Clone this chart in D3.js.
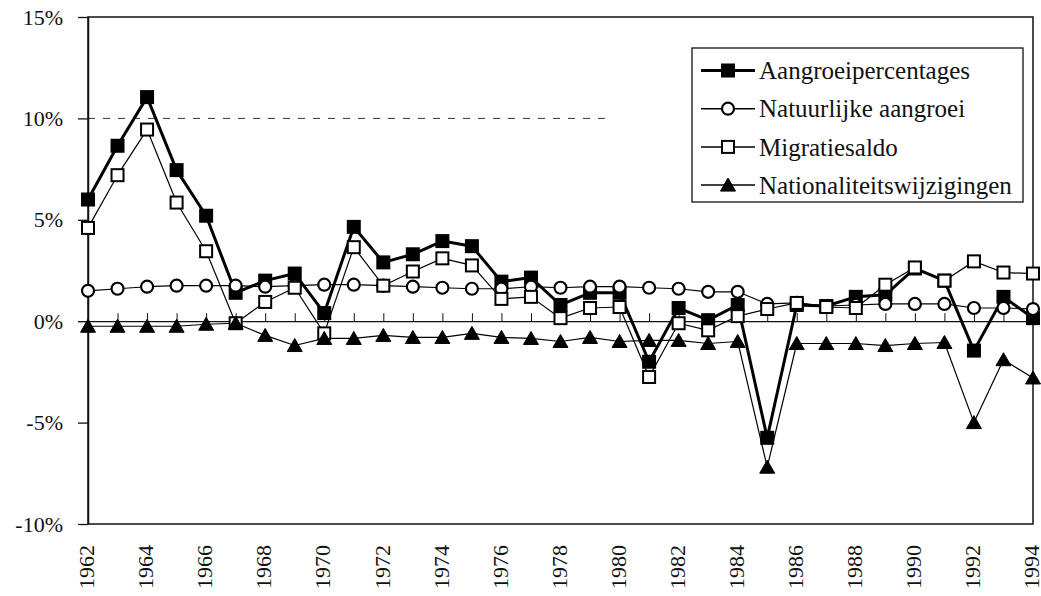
<!DOCTYPE html>
<html>
<head>
<meta charset="utf-8">
<script src="https://cdn.jsdelivr.net/npm/d3@7"></script>
<style>
	html, body { margin: 0; padding: 0; background: #fff; }
	svg { display: block; }
	svg text { font-family: 'Liberation Serif', 'Times New Roman', Times, serif; }
</style>
</head>
<body>
<div id="chart"></div>
<script>
'use strict';

// data (percentages)
var years = d3.range(1962, 1995);
var labelYears = d3.range(1962, 1995, 2);
var yTicks = [-10, -5, 0, 5, 10, 15];

var aangroei = [6.0, 8.65, 11.05, 7.45, 5.2, 1.4, 2.0, 2.35, 0.4,
	4.65, 2.9, 3.3, 3.95, 3.7, 1.95, 2.15, 0.8, 1.4, 1.4,
	-2.0, 0.65, 0.05, 0.8, -5.75, 0.8, 0.75, 1.2, 1.3, 2.6,
	2.0, -1.45, 1.2, 0.15];
var natuurlijk = [1.5, 1.6, 1.7, 1.75, 1.75, 1.75, 1.7, 1.75, 1.8,
	1.8, 1.75, 1.7, 1.65, 1.6, 1.6, 1.7, 1.65, 1.7, 1.7,
	1.65, 1.6, 1.45, 1.45, 0.85, 0.9, 0.75, 0.8, 0.85, 0.85,
	0.85, 0.65, 0.65, 0.6];
var migratie = [4.6, 7.2, 9.45, 5.85, 3.45, -0.1, 0.95, 1.65, -0.6,
	3.65, 1.75, 2.45, 3.1, 2.75, 1.1, 1.2, 0.15, 0.65, 0.7,
	-2.75, -0.1, -0.45, 0.25, 0.6, 0.9, 0.7, 0.65, 1.8, 2.65,
	2.0, 2.95, 2.4, 2.35];
var nationaliteit = [-0.25, -0.25, -0.25, -0.25, -0.15, -0.1, -0.7, -1.2, -0.85,
	-0.85, -0.7, -0.8, -0.8, -0.6, -0.8, -0.85, -1.0, -0.8, -1.0,
	-0.95, -0.95, -1.1, -1.0, -7.2, -1.1, -1.1, -1.1, -1.2, -1.1,
	-1.05, -5.0, -1.9, -2.8];

var series = [
	{ name: 'Aangroeipercentages', values: aangroei, marker: 'square', fill: '#000', width: 3 },
	{ name: 'Natuurlijke aangroei', values: natuurlijk, marker: 'circle', fill: '#fff', width: 1.2 },
	{ name: 'Migratiesaldo', values: migratie, marker: 'square', fill: '#fff', width: 1.2 },
	{ name: 'Nationaliteitswijzigingen', values: nationaliteit, marker: 'triangle', fill: '#000', width: 1.2 }
];

// container
var W = 1041, H = 596;
var plot = { left: 88, right: 1033, top: 17, bottom: 524 };

var svg = d3.select('#chart').append('svg')
	.attr('width', W)
	.attr('height', H);

var x = d3.scaleLinear().domain([1962, 1994]).range([plot.left, plot.right]);
var y = d3.scaleLinear().domain([-10, 15]).range([plot.bottom, plot.top]);

// gridline at 10% (only the left part survives in the original)
svg.append('line')
	.attr('x1', plot.left).attr('x2', x(1979.5))
	.attr('y1', y(10)).attr('y2', y(10))
	.attr('stroke', '#333')
	.attr('stroke-width', 1)
	.attr('stroke-dasharray', '7,8');

// frame
svg.append('rect')
	.attr('x', plot.left).attr('y', plot.top)
	.attr('width', plot.right - plot.left)
	.attr('height', plot.bottom - plot.top)
	.attr('fill', 'none')
	.attr('stroke', '#111')
	.attr('stroke-width', 1.5);

// y axis
var yAxis = svg.append('g')
	.attr('transform', 'translate(' + plot.left + ',0)')
	.call(d3.axisLeft(y).tickValues(yTicks).tickSizeInner(10).tickSizeOuter(0).tickPadding(15)
		.tickFormat(function(d){ return d + '%'; }));
yAxis.attr('font-family', null);
yAxis.select('.domain').attr('stroke', '#111').attr('stroke-width', 1.5);
yAxis.selectAll('line').attr('stroke', '#111').attr('stroke-width', 1.3);
yAxis.selectAll('text')
	.attr('font-size', 22)
	.attr('fill', '#111');

// zero line with year ticks
var zeroAxis = svg.append('g')
	.attr('transform', 'translate(0,' + y(0) + ')')
	.call(d3.axisTop(x).tickValues(years).tickSizeInner(8).tickSizeOuter(0).tickFormat(''));
zeroAxis.select('.domain').attr('stroke', '#111').attr('stroke-width', 1.3);
zeroAxis.selectAll('line').attr('stroke', '#111').attr('stroke-width', 1);

// year labels at the bottom
var xAxis = svg.append('g')
	.attr('transform', 'translate(0,' + plot.bottom + ')')
	.call(d3.axisBottom(x).tickValues(labelYears).tickSize(0).tickFormat(d3.format('d')));
xAxis.attr('font-family', null);
xAxis.select('.domain').remove();
xAxis.selectAll('text')
	.attr('transform', 'rotate(-90)')
	.attr('text-anchor', 'end')
	.attr('x', -21)
	.attr('y', -2)
	.attr('dy', '0.35em')
	.attr('font-size', 22)
	.attr('fill', '#111');

/**
 * draw one marker shape
 */
var drawMarker = function(g, s, cx, cy){
	if (s.marker === 'square'){
		g.append('rect')
			.attr('x', cx - 6).attr('y', cy - 6)
			.attr('width', 12).attr('height', 12)
			.attr('fill', s.fill)
			.attr('stroke', '#000')
			.attr('stroke-width', 2);
	} else if (s.marker === 'circle'){
		g.append('circle')
			.attr('cx', cx).attr('cy', cy).attr('r', 6)
			.attr('fill', s.fill)
			.attr('stroke', '#000')
			.attr('stroke-width', 2.2);
	} else {
		g.append('path')
			.attr('d', 'M' + cx + ',' + (cy - 7) + 'L' + (cx + 7.5) + ',' + (cy + 6) + 'L' + (cx - 7.5) + ',' + (cy + 6) + 'Z')
			.attr('fill', s.fill)
			.attr('stroke', '#000')
			.attr('stroke-width', 1);
	}
};

// lines
var line = d3.line()
	.x(function(d, i){ return x(years[i]); })
	.y(function(d){ return y(d); });

series.forEach(function(s){
	svg.append('path')
		.datum(s.values)
		.attr('d', line)
		.attr('fill', 'none')
		.attr('stroke', '#000')
		.attr('stroke-width', s.width)
		.attr('stroke-linejoin', 'round');
});

// markers
series.forEach(function(s){
	var g = svg.append('g');
	s.values.forEach(function(v, i){
		drawMarker(g, s, x(years[i]), y(v));
	});
});

// legend
var legend = svg.append('g');
legend.append('rect')
	.attr('x', 692).attr('y', 48)
	.attr('width', 331).attr('height', 154)
	.attr('fill', '#fff')
	.attr('stroke', '#111')
	.attr('stroke-width', 1.3);

series.forEach(function(s, i){
	var cy = 70.5 + i * 38.2;
	var row = legend.append('g');
	row.append('line')
		.attr('x1', 701).attr('x2', 755)
		.attr('y1', cy).attr('y2', cy)
		.attr('stroke', '#000')
		.attr('stroke-width', s.width === 3 ? 3 : 1.5);
	drawMarker(row, s, 728, cy);
	row.append('text')
		.attr('x', 759).attr('y', cy)
		.attr('dy', '0.35em')
		.attr('font-size', 25)
		.attr('fill', '#111')
		.text(s.name);
});
</script>
</body>
</html>
